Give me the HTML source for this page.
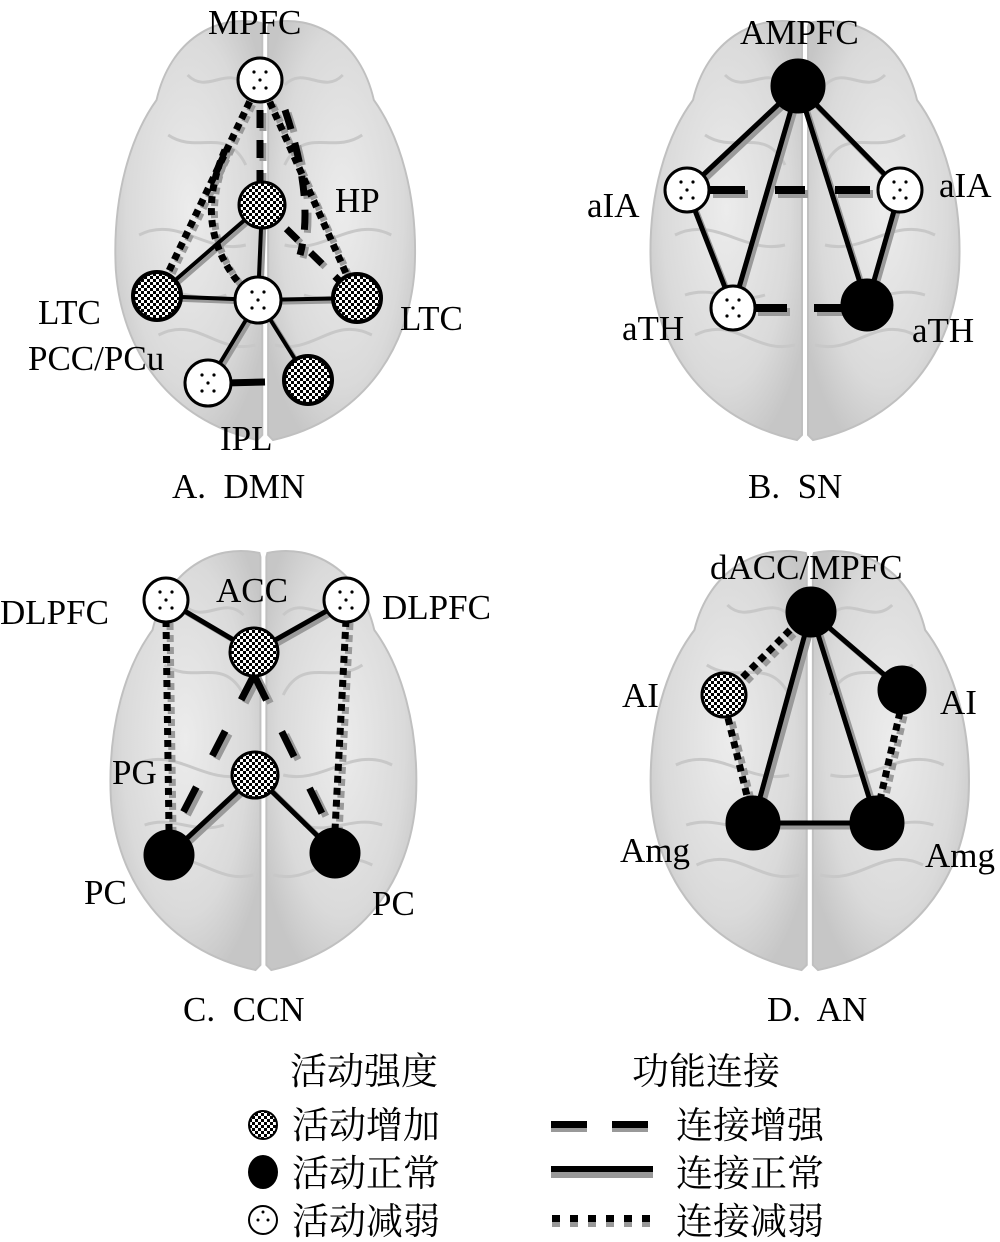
<!DOCTYPE html>
<html><head><meta charset="utf-8"><style>
html,body{margin:0;padding:0;background:#fff;}
svg{display:block;}
text{font-family:"Liberation Serif","Noto Serif CJK SC",serif;fill:#000;white-space:pre;}
</style></head><body>
<svg width="1000" height="1242" viewBox="0 0 1000 1242" xmlns="http://www.w3.org/2000/svg">
<defs>
<pattern id="chk" width="6" height="6" patternUnits="userSpaceOnUse">
<rect width="6" height="6" fill="#fff"/><rect width="3" height="3" fill="#000"/><rect x="3" y="3" width="3" height="3" fill="#000"/>
</pattern>
<radialGradient id="bg" cx="50%" cy="45%" r="60%">
<stop offset="0" stop-color="#ececec"/><stop offset="0.7" stop-color="#dadada"/><stop offset="1" stop-color="#c6c6c6"/>
</radialGradient>
<g id="brain">
<path d="M156,8 C110,-2 62,25 48,85 C22,120 2,180 6,255 C12,335 60,405 152,425 L157,420 L157,12 Z" fill="url(#bg)" stroke="#c0c0c0" stroke-width="2"/>
<path d="M164,8 C210,-2 258,25 272,85 C298,120 318,180 314,255 C308,335 260,405 168,425 L163,420 L163,12 Z" fill="url(#bg)" stroke="#c0c0c0" stroke-width="2"/>
<path d="M60,120 C90,140 120,110 140,150 M30,220 C70,200 100,240 140,230 M50,320 C90,300 110,340 150,330 M260,120 C230,140 200,110 180,150 M290,220 C250,200 220,240 180,230 M270,320 C230,300 210,340 170,330 M80,60 C100,80 120,50 140,70 M240,60 C220,80 200,50 180,70 M40,280 C70,270 90,290 120,280 M280,280 C250,270 230,290 200,280" fill="none" stroke="#c8c8c8" stroke-width="3"/>
</g>
<g id="dots"><circle cx="-6" cy="-8" r="1.6"/><circle cx="6" cy="-8" r="1.6"/><circle cx="0" cy="0" r="1.6"/><circle cx="-6" cy="8" r="1.6"/><circle cx="6" cy="8" r="1.6"/></g>
</defs>

<use href="#brain" transform="translate(110,15) scale(0.97,1)"/>
<use href="#brain" transform="translate(645,15) scale(1.0,1)"/>
<use href="#brain" transform="translate(105,545) scale(0.99,1)"/>
<use href="#brain" transform="translate(645,545) scale(1.03,1)"/>

<!-- ===== Panel A lines ===== -->
<g fill="none" stroke-linecap="butt">
<g stroke="#9a9a9a" transform="translate(3,3)">
<line x1="260" y1="80" x2="157" y2="296" stroke-width="7" stroke-dasharray="7 5"/>
<line x1="260" y1="80" x2="357" y2="298" stroke-width="7" stroke-dasharray="7 5"/>
<line x1="260" y1="80" x2="260" y2="205" stroke-width="7" stroke-dasharray="18 12"/>
<path d="M285,110 Q315,200 300,255" stroke-width="7" stroke-dasharray="20 14"/>
<path d="M225,150 Q190,230 245,290" stroke-width="7" stroke-dasharray="7 5"/>
<line x1="262" y1="205" x2="157" y2="296" stroke-width="4"/>
<line x1="262" y1="205" x2="258" y2="300" stroke-width="4"/>
<line x1="262" y1="205" x2="357" y2="298" stroke-width="7" stroke-dasharray="16 18"/>
<line x1="258" y1="300" x2="157" y2="296" stroke-width="4"/>
<line x1="258" y1="300" x2="357" y2="298" stroke-width="4"/>
<line x1="258" y1="300" x2="208" y2="383" stroke-width="4"/>
<line x1="258" y1="300" x2="308" y2="380" stroke-width="4"/>
</g>
<g stroke="#000">
<line x1="260" y1="80" x2="157" y2="296" stroke-width="7" stroke-dasharray="7 5"/>
<line x1="260" y1="80" x2="357" y2="298" stroke-width="7" stroke-dasharray="7 5"/>
<line x1="260" y1="80" x2="260" y2="205" stroke-width="7" stroke-dasharray="18 12"/>
<path d="M285,110 Q315,200 300,255" stroke-width="7" stroke-dasharray="20 14"/>
<path d="M225,150 Q190,230 245,290" stroke-width="7" stroke-dasharray="7 5"/>
<line x1="262" y1="205" x2="157" y2="296" stroke-width="4"/>
<line x1="262" y1="205" x2="258" y2="300" stroke-width="4"/>
<line x1="262" y1="205" x2="357" y2="298" stroke-width="7" stroke-dasharray="16 18"/>
<line x1="258" y1="300" x2="157" y2="296" stroke-width="4"/>
<line x1="258" y1="300" x2="357" y2="298" stroke-width="4"/>
<line x1="258" y1="300" x2="208" y2="383" stroke-width="4"/>
<line x1="258" y1="300" x2="308" y2="380" stroke-width="4"/>
<line x1="225" y1="383" x2="265" y2="382" stroke-width="7"/>
</g>
</g>
<g stroke="#000" stroke-width="3">
<circle cx="260" cy="80" r="22" fill="#fff"/>
<circle cx="262" cy="205" r="23" fill="url(#chk)"/>
<circle cx="157" cy="296" r="24" fill="url(#chk)" stroke-width="4"/>
<circle cx="258" cy="300" r="23" fill="#fff"/>
<circle cx="357" cy="298" r="24" fill="url(#chk)" stroke-width="4"/>
<circle cx="208" cy="383" r="23" fill="#fff"/>
<circle cx="308" cy="380" r="24" fill="url(#chk)" stroke-width="4"/>
</g>
<use href="#dots" x="260" y="80"/><use href="#dots" x="258" y="300"/><use href="#dots" x="208" y="383"/>
<g font-size="35">
<text x="208" y="34">MPFC</text>
<text x="335" y="212">HP</text>
<text x="38" y="324">LTC</text>
<text x="400" y="330">LTC</text>
<text x="28" y="370">PCC/PCu</text>
<text x="220" y="450">IPL</text>
<text x="172" y="498">A.  DMN</text>
</g>

<!-- ===== Panel B ===== -->
<g fill="none">
<g stroke="#9a9a9a" transform="translate(3,4)">
<line x1="798" y1="86" x2="687" y2="190" stroke-width="5"/>
<line x1="798" y1="86" x2="900" y2="190" stroke-width="5"/>
<line x1="798" y1="86" x2="733" y2="308" stroke-width="5"/>
<line x1="798" y1="86" x2="867" y2="305" stroke-width="5"/>
<line x1="687" y1="190" x2="733" y2="308" stroke-width="5"/>
<line x1="900" y1="190" x2="867" y2="305" stroke-width="5"/>
<line x1="710" y1="190" x2="878" y2="190" stroke-width="8" stroke-dasharray="35 30 30 30"/>
<line x1="755" y1="308" x2="845" y2="308" stroke-width="8" stroke-dasharray="32 27 40"/>
</g>
<g stroke="#000">
<line x1="798" y1="86" x2="687" y2="190" stroke-width="5"/>
<line x1="798" y1="86" x2="900" y2="190" stroke-width="5"/>
<line x1="798" y1="86" x2="733" y2="308" stroke-width="5"/>
<line x1="798" y1="86" x2="867" y2="305" stroke-width="5"/>
<line x1="687" y1="190" x2="733" y2="308" stroke-width="5"/>
<line x1="900" y1="190" x2="867" y2="305" stroke-width="5"/>
<line x1="710" y1="190" x2="878" y2="190" stroke-width="8" stroke-dasharray="35 30 30 30"/>
<line x1="755" y1="308" x2="845" y2="308" stroke-width="8" stroke-dasharray="32 27 40"/>
</g>
</g>
<g stroke="#000" stroke-width="3">
<circle cx="798" cy="86" r="26" fill="#000"/>
<circle cx="687" cy="190" r="22" fill="#fff"/>
<circle cx="900" cy="190" r="22" fill="#fff"/>
<circle cx="733" cy="308" r="22" fill="#fff"/>
<circle cx="867" cy="305" r="25" fill="#000"/>
</g>
<use href="#dots" x="687" y="190"/><use href="#dots" x="900" y="190"/><use href="#dots" x="733" y="308"/>
<g font-size="35">
<text x="740" y="44">AMPFC</text>
<text x="587" y="217">aIA</text>
<text x="939" y="197">aIA</text>
<text x="622" y="340">aTH</text>
<text x="912" y="342">aTH</text>
<text x="748" y="498">B.  SN</text>
</g>

<!-- ===== Panel C ===== -->
<g fill="none">
<g stroke="#9a9a9a" transform="translate(4,3)">
<line x1="166" y1="600" x2="254" y2="652" stroke-width="5"/>
<line x1="346" y1="600" x2="254" y2="652" stroke-width="5"/>
<line x1="166" y1="620" x2="169" y2="830" stroke-width="7" stroke-dasharray="7 5"/>
<line x1="346" y1="620" x2="335" y2="830" stroke-width="7" stroke-dasharray="7 5"/>
<line x1="255" y1="775" x2="169" y2="855" stroke-width="5"/>
<line x1="255" y1="775" x2="335" y2="853" stroke-width="5"/>
<line x1="254" y1="675" x2="169" y2="840" stroke-width="7" stroke-dasharray="28 35"/>
<line x1="254" y1="675" x2="335" y2="840" stroke-width="7" stroke-dasharray="28 35"/>
</g>
<g stroke="#000">
<line x1="166" y1="600" x2="254" y2="652" stroke-width="5"/>
<line x1="346" y1="600" x2="254" y2="652" stroke-width="5"/>
<line x1="166" y1="620" x2="169" y2="830" stroke-width="7" stroke-dasharray="7 5"/>
<line x1="346" y1="620" x2="335" y2="830" stroke-width="7" stroke-dasharray="7 5"/>
<line x1="255" y1="775" x2="169" y2="855" stroke-width="5"/>
<line x1="255" y1="775" x2="335" y2="853" stroke-width="5"/>
<line x1="254" y1="675" x2="169" y2="840" stroke-width="7" stroke-dasharray="28 35"/>
<line x1="254" y1="675" x2="335" y2="840" stroke-width="7" stroke-dasharray="28 35"/>
</g>
</g>
<g stroke="#000" stroke-width="3">
<circle cx="166" cy="600" r="22" fill="#fff"/>
<circle cx="346" cy="600" r="22" fill="#fff"/>
<circle cx="254" cy="652" r="24" fill="url(#chk)"/>
<circle cx="255" cy="775" r="23" fill="url(#chk)"/>
<circle cx="169" cy="855" r="24" fill="#000"/>
<circle cx="335" cy="853" r="24" fill="#000"/>
</g>
<use href="#dots" x="166" y="600"/><use href="#dots" x="346" y="600"/>
<g font-size="35">
<text x="0" y="624">DLPFC</text>
<text x="216" y="602">ACC</text>
<text x="382" y="619">DLPFC</text>
<text x="112" y="784">PG</text>
<text x="84" y="904">PC</text>
<text x="372" y="915">PC</text>
<text x="183" y="1021">C.  CCN</text>
</g>

<!-- ===== Panel D ===== -->
<g fill="none">
<g stroke="#9a9a9a" transform="translate(4,4)">
<line x1="811" y1="612" x2="902" y2="690" stroke-width="5"/>
<line x1="811" y1="612" x2="753" y2="823" stroke-width="5"/>
<line x1="811" y1="612" x2="877" y2="823" stroke-width="5"/>
<line x1="753" y1="823" x2="877" y2="823" stroke-width="5"/>
<line x1="790" y1="630" x2="740" y2="680" stroke-width="7" stroke-dasharray="7 5"/>
<line x1="728" y1="718" x2="748" y2="800" stroke-width="7" stroke-dasharray="7 5"/>
<line x1="900" y1="712" x2="880" y2="800" stroke-width="7" stroke-dasharray="7 5"/>
</g>
<g stroke="#000">
<line x1="811" y1="612" x2="902" y2="690" stroke-width="5"/>
<line x1="811" y1="612" x2="753" y2="823" stroke-width="5"/>
<line x1="811" y1="612" x2="877" y2="823" stroke-width="5"/>
<line x1="753" y1="823" x2="877" y2="823" stroke-width="5"/>
<line x1="790" y1="630" x2="740" y2="680" stroke-width="7" stroke-dasharray="7 5"/>
<line x1="728" y1="718" x2="748" y2="800" stroke-width="7" stroke-dasharray="7 5"/>
<line x1="900" y1="712" x2="880" y2="800" stroke-width="7" stroke-dasharray="7 5"/>
</g>
</g>
<g stroke="#000" stroke-width="3">
<circle cx="811" cy="612" r="24" fill="#000"/>
<circle cx="724" cy="695" r="22" fill="url(#chk)"/>
<circle cx="902" cy="690" r="23" fill="#000"/>
<circle cx="753" cy="823" r="26" fill="#000"/>
<circle cx="877" cy="823" r="26" fill="#000"/>
</g>
<g font-size="35">
<text x="710" y="579">dACC/MPFC</text>
<text x="622" y="707">AI</text>
<text x="940" y="714">AI</text>
<text x="620" y="862">Amg</text>
<text x="925" y="867">Amg</text>
<text x="767" y="1021">D.  AN</text>
</g>

<!-- ===== Legend ===== -->
<g font-size="37">
<text x="290" y="1084">活动强度</text>
<text x="632" y="1084">功能连接</text>
<text x="292" y="1138">活动增加</text>
<text x="292" y="1186">活动正常</text>
<text x="292" y="1234">活动减弱</text>
<text x="676" y="1138">连接增强</text>
<text x="676" y="1186">连接正常</text>
<text x="676" y="1234">连接减弱</text>
</g>
<circle cx="263" cy="1125" r="14" fill="url(#chk)" stroke="#000" stroke-width="2"/>
<ellipse cx="263" cy="1172" rx="15" ry="17" fill="#000"/>
<circle cx="263" cy="1220" r="14" fill="#fff" stroke="#000" stroke-width="2"/>
<circle cx="258" cy="1220" r="1.5"/><circle cx="268" cy="1220" r="1.5"/><circle cx="263" cy="1212" r="1.5"/>
<g>
<rect x="551" y="1126" width="36" height="6" fill="#999"/><rect x="551" y="1121" width="36" height="7" fill="#000"/>
<rect x="612" y="1126" width="36" height="6" fill="#999"/><rect x="612" y="1121" width="36" height="7" fill="#000"/>
<rect x="551" y="1171" width="102" height="7" fill="#999"/><rect x="551" y="1166" width="102" height="6" fill="#000"/>
<g fill="#999"><rect x="552" y="1222" width="8" height="5"/><rect x="570" y="1222" width="8" height="5"/><rect x="588" y="1222" width="8" height="5"/><rect x="606" y="1222" width="8" height="5"/><rect x="624" y="1222" width="8" height="5"/><rect x="642" y="1222" width="8" height="5"/></g>
<g fill="#000"><rect x="552" y="1215" width="8" height="7"/><rect x="570" y="1215" width="8" height="7"/><rect x="588" y="1215" width="8" height="7"/><rect x="606" y="1215" width="8" height="7"/><rect x="624" y="1215" width="8" height="7"/><rect x="642" y="1215" width="8" height="7"/></g>
</g>
</svg>
</body></html>
